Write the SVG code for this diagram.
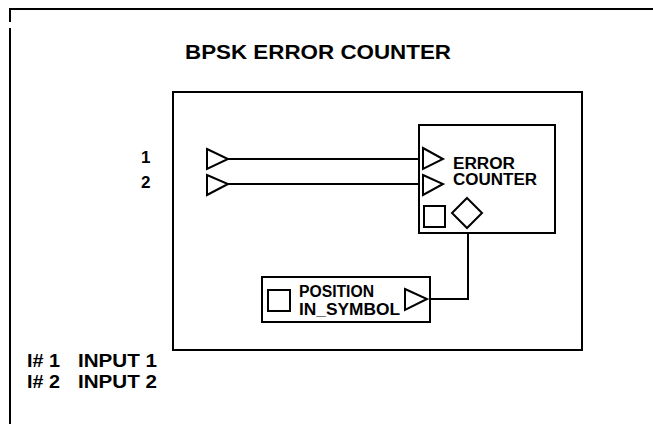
<svg xmlns="http://www.w3.org/2000/svg" width="653" height="424" viewBox="0 0 653 424">
<style>
text{font-family:"Liberation Sans",Arial,sans-serif;font-weight:bold;fill:#000}
.ln{fill:none;stroke:#000;stroke-width:2}
.bx{fill:#fff;stroke:#000;stroke-width:2}
.port{fill:#fff;stroke:#000;stroke-width:2;stroke-linejoin:miter}
.t16{font-size:16px}
.t17{font-size:17px}
.t18{font-size:18px}
</style>
<rect width="653" height="424" fill="#fff"/>
<g id="frame">
<path class="ln" d="M10,22 V9 H653 M10,28 V424"/>
<text x="185" y="59" style="font-size:20px" textLength="266" lengthAdjust="spacingAndGlyphs">BPSK ERROR COUNTER</text>
<rect class="ln" x="173" y="92" width="409" height="258"/>
</g>
<g id="connectors">
<path class="ln" d="M228,159 H419 M228,184 H419"/>
<path class="ln" d="M468,228 V299 H428"/>
</g>
<g id="input1">
<text class="t17" x="141" y="163">1</text>
<path class="port" d="M207,149 L228,159 L207,169 Z"/>
</g>
<g id="input2">
<text class="t17" x="141" y="188">2</text>
<path class="port" d="M207,175 L228,184 L207,195 Z"/>
</g>
<g id="error_counter">
<rect class="bx" x="419" y="125" width="136" height="108"/>
<path class="port" d="M423,148 L443,159 L423,169 Z"/>
<path class="port" d="M423,175 L443,184 L423,195 Z"/>
<text class="t16" x="453" y="169" textLength="62" lengthAdjust="spacingAndGlyphs">ERROR</text>
<text class="t16" x="453" y="185" textLength="84" lengthAdjust="spacingAndGlyphs">COUNTER</text>
<rect class="port" x="424" y="206" width="21" height="21"/>
<path class="port" d="M467,198 L482,213 L467,228 L452,213 Z"/>
</g>
<g id="position_in_symbol">
<rect class="bx" x="262" y="277" width="168" height="45"/>
<rect class="port" x="268" y="290" width="22" height="21"/>
<text class="t16" x="299" y="297" textLength="75" lengthAdjust="spacingAndGlyphs">POSITION</text>
<text class="t16" x="299" y="315" textLength="101" lengthAdjust="spacingAndGlyphs">IN_SYMBOL</text>
<path class="port" d="M405,289 L427,299 L405,310 Z"/>
</g>
<g id="legend">
<text class="t18" x="27" y="367" textLength="33" lengthAdjust="spacingAndGlyphs">I# 1</text>
<text class="t18" x="78" y="367" textLength="79" lengthAdjust="spacingAndGlyphs">INPUT 1</text>
<text class="t18" x="27" y="388" textLength="33" lengthAdjust="spacingAndGlyphs">I# 2</text>
<text class="t18" x="78" y="388" textLength="79" lengthAdjust="spacingAndGlyphs">INPUT 2</text>
</g>
</svg>
